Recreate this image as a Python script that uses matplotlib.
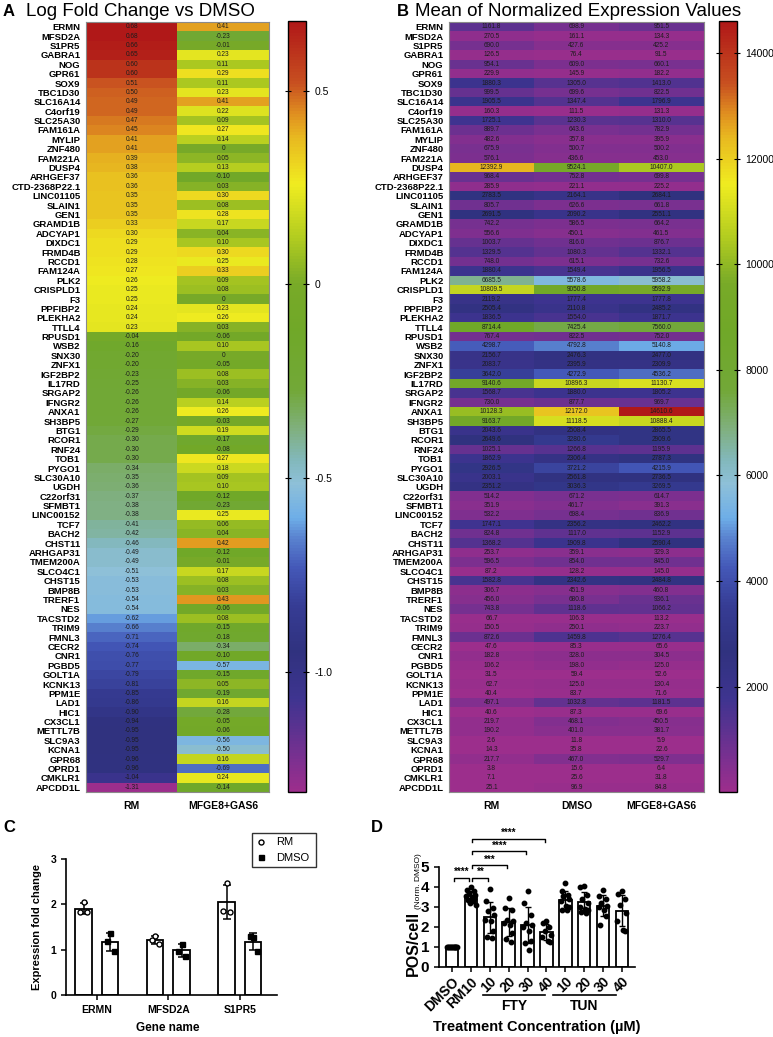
import numpy as np
import matplotlib
matplotlib.use('Agg')
import matplotlib.pyplot as plt
from matplotlib.colors import LinearSegmentedColormap

plt.rcParams['font.family'] = ['Liberation Sans', 'DejaVu Sans']

# ---------------- data ----------------
genes = ["ERMN", "MFSD2A", "S1PR5", "GABRA1", "NOG", "GPR61", "SOX9", "TBC1D30", "SLC16A14",
         "C4orf19", "SLC25A30", "FAM161A", "MYLIP", "ZNF480", "FAM221A", "DUSP4", "ARHGEF37",
         "CTD-2368P22.1", "LINC01105", "SLAIN1", "GEN1", "GRAMD1B", "ADCYAP1", "DIXDC1", "FRMD4B",
         "RCCD1", "FAM124A", "PLK2", "CRISPLD1", "F3", "PPFIBP2", "PLEKHA2", "TTLL4", "RPUSD1",
         "WSB2", "SNX30", "ZNFX1", "IGF2BP2", "IL17RD", "SRGAP2", "IFNGR2", "ANXA1", "SH3BP5",
         "BTG1", "RCOR1", "RNF24", "TOB1", "PYGO1", "SLC30A10", "UGDH", "C22orf31", "SFMBT1",
         "LINC00152", "TCF7", "BACH2", "CHST11", "ARHGAP31", "TMEM200A", "SLCO4C1", "CHST15",
         "BMP8B", "TRERF1", "NES", "TACSTD2", "TRIM9", "FMNL3", "CECR2", "CNR1", "PGBD5",
         "GOLT1A", "KCNK13", "PPM1E", "LAD1", "HIC1", "CX3CL1", "METTL7B", "SLC9A3", "KCNA1",
         "GPR68", "OPRD1", "CMKLR1", "APCDD1L"]

lfc_rm = [0.68, 0.68, 0.66, 0.65, 0.60, 0.60, 0.51, 0.50, 0.49, 0.49, 0.47, 0.45, 0.41, 0.41,
          0.39, 0.38, 0.36, 0.36, 0.35, 0.35, 0.35, 0.33, 0.30, 0.29, 0.29, 0.28, 0.27, 0.26,
          0.25, 0.25, 0.24, 0.24, 0.23, -0.04, -0.16, -0.20, -0.20, -0.23, -0.25, -0.26, -0.26,
          -0.26, -0.27, -0.29, -0.30, -0.30, -0.30, -0.34, -0.35, -0.36, -0.37, -0.38, -0.38,
          -0.41, -0.42, -0.46, -0.49, -0.49, -0.51, -0.53, -0.53, -0.54, -0.54, -0.62, -0.66,
          -0.71, -0.74, -0.76, -0.77, -0.79, -0.81, -0.85, -0.86, -0.90, -0.94, -0.95, -0.95,
          -0.95, -0.96, -0.96, -1.04, -1.31]
lfc_mg = [0.41, -0.23, -0.01, 0.23, 0.11, 0.29, 0.11, 0.23, 0.41, 0.22, 0.09, 0.27, 0.14, 0.0,
          0.05, 0.13, -0.10, 0.03, 0.30, 0.08, 0.28, 0.17, 0.04, 0.10, 0.30, 0.25, 0.33, 0.09,
          0.08, 0.0, 0.23, 0.26, 0.03, -0.06, 0.10, 0.0, -0.05, 0.08, 0.03, -0.06, 0.14, 0.26,
          -0.03, 0.19, -0.17, -0.08, 0.27, 0.18, 0.09, 0.10, -0.12, -0.23, 0.25, 0.06, 0.04,
          0.42, -0.12, -0.01, 0.17, 0.08, 0.03, 0.43, -0.06, 0.08, -0.15, -0.18, -0.34, -0.10,
          -0.57, -0.15, 0.05, -0.19, 0.16, -0.28, -0.05, -0.06, -0.56, -0.50, 0.16, -0.69, 0.24,
          -0.14]
lfc_cols = ["RM", "MFGE8+GAS6"]

expr_rm = [1161.8, 270.5, 690.0, 126.5, 954.1, 229.9, 1880.3, 999.5, 1905.5, 160.3, 1725.1,
           889.7, 482.6, 675.9, 576.1, 12392.9, 968.4, 285.9, 2783.5, 805.7, 2691.5, 742.2,
           556.6, 1003.7, 1329.5, 748.0, 1880.4, 6685.5, 10809.5, 2119.2, 2505.4, 1836.5,
           8714.4, 767.4, 4298.7, 2156.7, 2083.7, 3642.0, 9140.6, 1568.7, 730.0, 10128.3,
           9163.7, 2043.6, 2649.6, 1025.1, 1862.9, 2926.5, 2003.1, 2351.2, 514.2, 351.9, 532.2,
           1747.1, 824.8, 1368.2, 253.7, 596.5, 87.2, 1582.8, 306.7, 456.0, 743.8, 66.7, 150.5,
           872.6, 47.6, 182.8, 106.2, 31.5, 62.7, 40.4, 497.1, 40.6, 219.7, 190.2, 2.6, 14.3,
           217.7, 3.8, 7.1, 25.1]
expr_dmso = [698.9, 161.1, 427.6, 76.4, 609.0, 145.9, 1305.0, 699.6, 1347.4, 111.5, 1230.3,
             643.6, 357.8, 500.7, 436.6, 9524.1, 752.8, 221.1, 2164.1, 626.6, 2090.2, 586.5,
             450.1, 816.0, 1080.3, 615.1, 1549.4, 5578.6, 9050.8, 1777.4, 2110.8, 1554.0,
             7425.4, 822.5, 4792.8, 2476.3, 2395.9, 4272.9, 10896.3, 1880.0, 877.7, 12172.0,
             11118.5, 2508.4, 3280.6, 1266.8, 2306.4, 3721.2, 2561.8, 3036.3, 671.2, 461.7,
             698.4, 2356.2, 1117.0, 1909.8, 359.1, 854.0, 128.2, 2342.6, 451.9, 680.8, 1118.6,
             106.3, 250.1, 1459.8, 85.3, 328.0, 198.0, 59.4, 125.0, 83.7, 1032.8, 87.3, 468.1,
             401.0, 11.8, 35.8, 467.0, 15.6, 25.6, 96.9]
expr_mg = [951.5, 134.3, 425.2, 91.5, 660.1, 182.2, 1413.0, 822.5, 1796.9, 131.3, 1310.0,
           782.9, 395.9, 500.2, 453.0, 10407.0, 699.8, 225.2, 2684.1, 661.8, 2551.1, 664.2,
           461.5, 876.7, 1332.1, 732.6, 1956.5, 5958.2, 9592.9, 1777.8, 2485.2, 1871.7, 7560.0,
           752.0, 5140.8, 2477.0, 2309.9, 4536.2, 11130.7, 1805.2, 969.7, 14610.6, 10888.4,
           2865.5, 2909.6, 1195.9, 2787.3, 4215.9, 2736.5, 3269.5, 614.7, 391.3, 836.9, 2462.2,
           1152.9, 2590.4, 329.3, 845.0, 145.0, 2484.8, 460.8, 936.1, 1066.2, 113.2, 223.7,
           1276.4, 65.6, 304.5, 125.0, 52.6, 130.4, 71.6, 1181.5, 69.6, 450.5, 381.7, 5.9, 22.6,
           529.7, 6.4, 31.8, 84.8]
expr_cols = ["RM", "DMSO", "MFGE8+GAS6"]

# panel C
c_genes = ["ERMN", "MFSD2A", "S1PR5"]
c_rm_pts = [[2.05, 1.84, 1.82], [1.31, 1.22, 1.12], [2.48, 1.86, 1.82]]
c_dmso_pts = [[1.36, 1.19, 0.96], [1.13, 0.98, 0.85], [1.27, 1.31, 0.96]]

# panel D
d_labels = ["DMSO", "RM10", "10", "20", "30", "40", "10", "20", "30", "40"]
d_pts = [
    [1.0, 1.0, 1.0, 1.0, 1.0, 1.0, 1.0, 1.0, 1.0, 1.0, 1.0, 1.0],
    [3.98, 3.85, 3.78, 3.70, 3.62, 3.55, 3.48, 3.42, 3.35, 3.28, 3.20, 3.10],
    [3.88, 3.30, 2.95, 2.80, 2.60, 2.35, 2.30, 1.80, 1.50, 1.45],
    [3.45, 2.95, 2.85, 2.35, 2.30, 2.20, 2.10, 1.70, 1.40, 1.25],
    [3.80, 3.20, 2.60, 2.20, 2.10, 2.00, 1.80, 1.30, 1.20, 0.85],
    [2.30, 2.20, 2.00, 1.80, 1.60, 1.50, 1.30, 1.25],
    [4.20, 3.80, 3.60, 3.55, 3.40, 3.30, 3.05, 3.00, 2.85, 2.85],
    [4.05, 4.00, 3.60, 3.40, 3.20, 3.00, 2.90, 2.85, 2.75, 2.70],
    [3.85, 3.55, 3.40, 3.20, 3.05, 3.00, 2.85, 2.55, 2.10],
    [3.80, 3.65, 3.40, 3.10, 2.70, 2.30, 1.85, 1.80],
]
d_sig = [(0, 1, 4.45, "****"), (1, 2, 4.45, "**"), (1, 3, 5.08, "***"),
         (1, 4, 5.78, "****"), (1, 5, 6.40, "****")]

# ---------------- figure ----------------
W, H = 773, 1037
fig = plt.figure(figsize=(W / 100, H / 100), dpi=100)


def ax_px(x0, y0, x1, y1):
    return fig.add_axes([x0 / W, 1 - y1 / H, (x1 - x0) / W, (y1 - y0) / H])


def ftxt(x, y, s, **kw):
    fig.text(x / W, 1 - y / H, s, **kw)


stops = [(0.00, "#9c2e8c"), (0.04, "#7c3090"), (0.08, "#5c3290"), (0.12, "#3e3490"),
         (0.18, "#30327f"), (0.24, "#363c94"), (0.29, "#4458b8"), (0.33, "#5a84d0"),
         (0.355, "#6eaee8"), (0.40, "#8ec0d8"), (0.43, "#82b8bc"), (0.47, "#80b080"),
         (0.52, "#72a838"), (0.60, "#70a828"), (0.66, "#78aa28"), (0.72, "#b2cc20"),
         (0.79, "#f0ec20"), (0.85, "#e8b820"), (0.88, "#e09020"), (0.92, "#c85020"),
         (1.00, "#b01818")]
cmap = LinearSegmentedColormap.from_list("prism", stops)


def heat(ax, data, fmt, cols):
    data = np.asarray(data)
    im = ax.imshow(data, cmap=cmap, vmin=data.min(), vmax=data.max(), aspect="auto",
                   interpolation="nearest")
    for i in range(data.shape[0]):
        for j in range(data.shape[1]):
            ax.text(j, i, fmt(data[i, j]), ha="center", va="center", fontsize=4.7,
                    color="#1c1c1c")
    ax.set_yticks(range(len(genes)))
    ax.set_yticklabels(genes, fontsize=6.8, fontweight="bold")
    ax.set_xticks(range(len(cols)))
    ax.set_xticklabels(cols, fontsize=7.5, fontweight="bold")
    ax.tick_params(axis="y", length=0, pad=4)
    ax.tick_params(axis="x", length=0, pad=6.5)
    for s in ax.spines.values():
        s.set_color("#8a8a8a")
        s.set_linewidth(0.8)
    return im


def fmt_lfc(v):
    return "0" if abs(v) < 1e-9 else f"{v:.2f}"


# Panel A
axA = ax_px(86, 22, 269, 792)
imA = heat(axA, np.column_stack([lfc_rm, lfc_mg]), fmt_lfc, lfc_cols)
caxA = ax_px(288, 21, 306, 792)
cbA = fig.colorbar(imA, cax=caxA)
cbA.set_ticks([0.5, 0, -0.5, -1.0])
cbA.set_ticklabels(["0.5", "0", "-0.5", "-1.0"])

# Panel B
axB = ax_px(449, 22, 704, 792)
imB = heat(axB, np.column_stack([expr_rm, expr_dmso, expr_mg]), lambda v: f"{v:.1f}", expr_cols)
caxB = ax_px(719, 21, 737, 792)
cbB = fig.colorbar(imB, cax=caxB)
cbB.set_ticks([2000, 4000, 6000, 8000, 10000, 12000, 14000])

for cb in (cbA, cbB):
    cb.outline.set_linewidth(1.0)
    cb.outline.set_edgecolor("black")
    cb.ax.tick_params(labelsize=7.5, length=4, width=0.8, direction="inout", left=True,
                      right=True, pad=4)

ftxt(140, 11, "Log Fold Change vs DMSO", fontsize=13.5, ha="center", va="center")
ftxt(578, 11, "Mean of Normalized Expression Values", fontsize=13.5, ha="center", va="center")
ftxt(3, 11, "A", fontsize=12, fontweight="bold", ha="left", va="center")
ftxt(397, 11, "B", fontsize=12, fontweight="bold", ha="left", va="center")
ftxt(3, 828, "C", fontsize=12, fontweight="bold", ha="left", va="center")
ftxt(371, 828, "D", fontsize=12, fontweight="bold", ha="left", va="center")

# Panel C
axC = ax_px(66, 859, 277, 995)
xg = np.arange(len(c_genes))
off = 0.185
bw = 0.23
jit = [0.0, -0.045, 0.05]
for k, (pts, dx, mk, fc) in enumerate([(c_rm_pts, -off, "o", "white"),
                                       (c_dmso_pts, off, "s", "black")]):
    arr = np.array(pts)
    m = arr.mean(axis=1)
    sd = arr.std(axis=1, ddof=1)
    axC.bar(xg + dx, m, width=bw, color="white", edgecolor="black", linewidth=1.3, zorder=2)
    axC.errorbar(xg + dx, m, yerr=sd, fmt="none", ecolor="black", elinewidth=1.1, capsize=2.6,
                 capthick=1.1, zorder=3)
    for g in range(len(c_genes)):
        axC.plot(xg[g] + dx + np.array(jit), arr[g], linestyle="none", marker=mk,
                 markersize=3.6, markerfacecolor=fc, markeredgecolor="black",
                 markeredgewidth=1.0, zorder=4, clip_on=False,
                 label=(["RM", "DMSO"][k] if g == 0 else None))
axC.set_ylim(0, 3)
axC.set_xlim(-0.43, 2.52)
axC.set_yticks([0, 1, 2, 3])
axC.set_xticks(xg)
axC.set_xticklabels(c_genes)
for lab in axC.get_xticklabels() + axC.get_yticklabels():
    lab.set_fontweight("bold")
    lab.set_fontsize(7.5)
axC.tick_params(width=1.1, length=3.5)
axC.spines["top"].set_visible(False)
axC.spines["right"].set_visible(False)
for s in ("left", "bottom"):
    axC.spines[s].set_linewidth(1.2)
axC.set_ylabel("Expression fold change", fontsize=8, fontweight="bold", labelpad=6)
ftxt(168, 1028, "Gene name", fontsize=8.5, fontweight="bold", ha="center", va="center")
leg = axC.legend(loc="upper left", bbox_to_anchor=(252 / W, 1 - 871 / H, 64 / W, 38 / H),
                 bbox_transform=fig.transFigure, mode="expand", fontsize=8, frameon=True,
                 fancybox=False, handlelength=0.8, handletextpad=1.0, borderpad=0.4,
                 labelspacing=0.5, borderaxespad=0)
leg.get_frame().set_edgecolor("black")
leg.get_frame().set_linewidth(1.0)

# Panel D
axD = ax_px(439, 867, 635, 967)
xd = np.arange(len(d_labels))
dj = [0.0, -0.2, 0.16, -0.1, 0.22, -0.24, 0.06, 0.18, -0.15, 0.1, -0.05, 0.25]
for i, pts in enumerate(d_pts):
    arr = np.array(pts)
    m = arr.mean()
    sd = arr.std(ddof=1)
    axD.bar(xd[i], m, width=0.66, color="white", edgecolor="black", linewidth=1.3, zorder=2)
    axD.errorbar(xd[i], m, yerr=sd, fmt="none", ecolor="black", elinewidth=1.0, capsize=2.2,
                 capthick=1.0, zorder=3)
    axD.plot(xd[i] + np.array(dj[:len(arr)]), arr, linestyle="none", marker="o",
             markersize=3.2, color="black", zorder=4)
axD.set_ylim(0, 5)
axD.set_xlim(-0.69, 9.69)
axD.set_yticks([0, 1, 2, 3, 4, 5])
axD.set_xticks(xd)
axD.set_xticklabels(d_labels, rotation=45, ha="right", va="top", rotation_mode="anchor")
for lab in axD.get_xticklabels():
    lab.set_fontweight("bold")
    lab.set_fontsize(10)
for lab in axD.get_yticklabels():
    lab.set_fontweight("bold")
    lab.set_fontsize(11)
axD.tick_params(width=1.1, length=3.5)
axD.tick_params(axis="x", pad=2)
axD.spines["top"].set_visible(False)
axD.spines["right"].set_visible(False)
for s in ("left", "bottom"):
    axD.spines[s].set_linewidth(1.2)

for a, b, y, s in d_sig:
    xa, xb = xd[a] + 0.08, xd[b] - 0.08
    axD.plot([xa, xa, xb, xb], [y - 0.13, y, y, y - 0.13], color="black", lw=1.0,
             clip_on=False)
    axD.text((xa + xb) / 2, y + 0.05, s, ha="center", va="bottom", fontsize=7,
             fontweight="bold")

# group lines for FTY / TUN
for x0, x1, lab in [(483, 545, "FTY"), (553, 616, "TUN")]:
    fig.add_artist(plt.Line2D([x0 / W, x1 / W], [1 - 995 / H, 1 - 995 / H], color="black",
                              lw=1.2, transform=fig.transFigure))
    ftxt((x0 + x1) / 2, 1006, lab, fontsize=10, fontweight="bold", ha="center", va="center")
ftxt(537, 1027, "Treatment Concentration (\u00b5M)", fontsize=10.5, fontweight="bold",
     ha="center", va="center")
ftxt(413, 943, "POS/cell", fontsize=11.5, fontweight="bold", rotation=90, ha="center",
     va="center")
ftxt(418, 881, "(Norm. DMSO)", fontsize=6, rotation=90, ha="center", va="center")

fig.savefig("out.png", dpi=100)
